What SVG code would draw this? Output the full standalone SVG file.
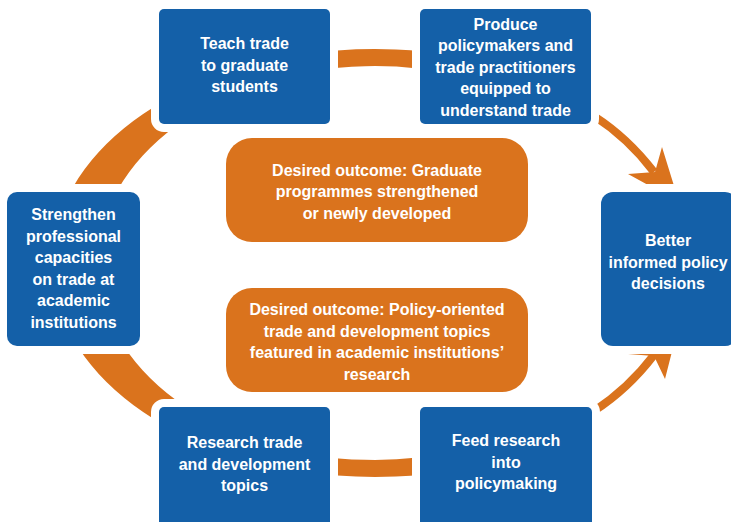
<svg xmlns="http://www.w3.org/2000/svg" width="731" height="522" viewBox="0 0 731 522">
<style>
.blue{fill:#1460A8;stroke:#FFFFFF;stroke-width:16;paint-order:stroke}
.orange{fill:#DA731D}
.ring{fill:#DA731D;stroke:none}
.shaft{fill:none;stroke:#DA731D;stroke-width:8}
.head{fill:#DA731D}
text{font-family:"Liberation Sans",Arial,sans-serif;font-weight:bold;font-size:16px;fill:#FFFFFF;text-anchor:middle}
</style>
<rect width="731" height="522" fill="#FFFFFF"/>
<g id="connectors">
<path class="ring" d="M 560,87.6 A 323 214 0 1 0 560,438.4 L 560,409.6 A 277 197 0 1 1 560,116.4 Z"/>
<path class="shaft" d="M 594,116 Q 628,138 654,172"/>
<polygon class="head" points="679,202 628,174 655,172 662,147"/>
<path class="shaft" d="M 594,411 Q 628,389 654,355"/>
<polygon class="head" points="678,328 628,354 654,356 665,379"/>
</g>
<g id="teach">
<rect class="blue" x="159" y="9" width="171" height="115" rx="5"/>
<text x="244.5" y="49">Teach trade</text>
<text x="244.5" y="70.5">to graduate</text>
<text x="244.5" y="92">students</text>
</g>
<g id="produce">
<rect class="blue" x="420" y="9" width="171" height="115" rx="5"/>
<text x="505.5" y="29.5">Produce</text>
<text x="505.5" y="51">policymakers and</text>
<text x="505.5" y="72.5">trade practitioners</text>
<text x="505.5" y="94">equipped to</text>
<text x="505.5" y="115.5">understand trade</text>
</g>
<g id="strengthen">
<rect class="blue" x="7" y="192" width="133" height="154" rx="10"/>
<text x="73.5" y="220">Strengthen</text>
<text x="73.5" y="241.5">professional</text>
<text x="73.5" y="263">capacities</text>
<text x="73.5" y="284.5">on trade at</text>
<text x="73.5" y="306">academic</text>
<text x="73.5" y="327.5">institutions</text>
</g>
<g id="better">
<rect class="blue" x="601" y="192" width="136" height="154" rx="12"/>
<text x="668" y="246">Better</text>
<text x="668" y="267.5">informed policy</text>
<text x="668" y="289">decisions</text>
</g>
<g id="research">
<rect class="blue" x="159" y="407" width="171" height="130" rx="5"/>
<text x="244.5" y="448">Research trade</text>
<text x="244.5" y="469.5">and development</text>
<text x="244.5" y="491">topics</text>
</g>
<g id="feed">
<rect class="blue" x="420" y="407" width="172" height="130" rx="5"/>
<text x="506" y="446">Feed research</text>
<text x="506" y="467.5">into</text>
<text x="506" y="489">policymaking</text>
</g>
<g id="outcome1">
<rect class="orange" x="226" y="138" width="302" height="104" rx="26"/>
<text x="377" y="175.5">Desired outcome: Graduate</text>
<text x="377" y="197">programmes strengthened</text>
<text x="377" y="218.5">or newly developed</text>
</g>
<g id="outcome2">
<rect class="orange" x="226" y="288" width="302" height="104" rx="26"/>
<text x="377" y="315">Desired outcome: Policy-oriented</text>
<text x="377" y="336.5">trade and development topics</text>
<text x="377" y="358">featured in academic institutions’</text>
<text x="377" y="379.5">research</text>
</g>
</svg>
